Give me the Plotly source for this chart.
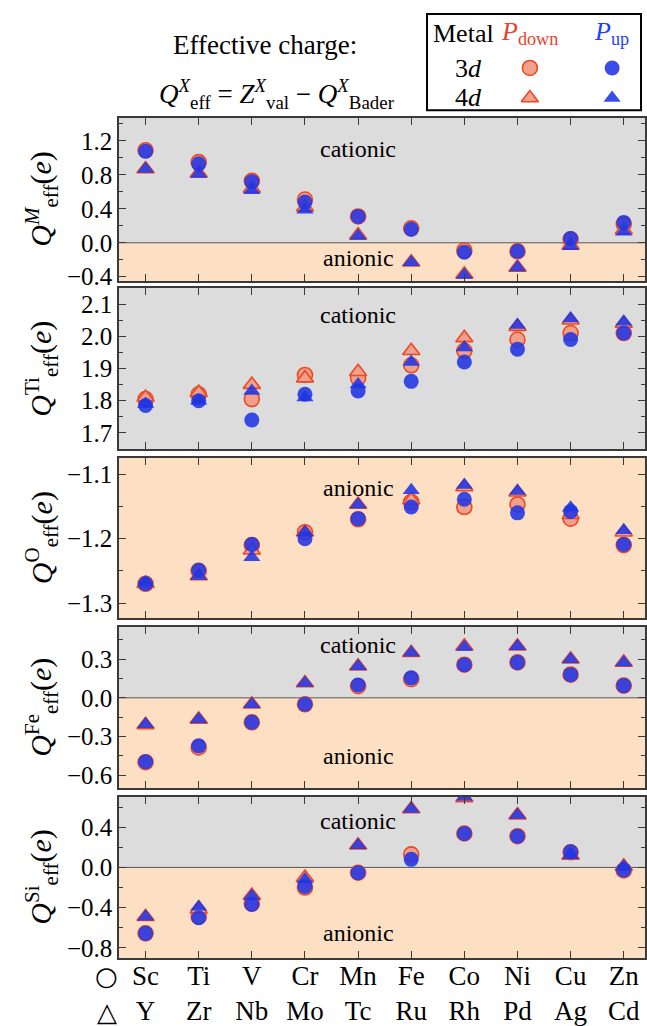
import plotly.graph_objects as go

# ---------------- data ----------------
metals_3d = ["Sc", "Ti", "V", "Cr", "Mn", "Fe", "Co", "Ni", "Cu", "Zn"]
metals_4d = ["Y", "Zr", "Nb", "Mo", "Tc", "Ru", "Rh", "Pd", "Ag", "Cd"]

M_3d_down = [1.09, 0.95, 0.73, 0.51, 0.31, 0.17, -0.09, -0.10, 0.04, 0.22]
M_3d_up = [1.08, 0.93, 0.72, 0.48, 0.31, 0.16, -0.11, -0.10, 0.05, 0.24]
M_4d_down = [0.87, 0.82, 0.64, 0.42, 0.09, -0.23, -0.37, -0.29, -0.03, 0.15]
M_4d_up = [0.87, 0.81, 0.62, 0.39, 0.08, -0.23, -0.38, -0.29, -0.04, 0.13]

Ti_3d_down = [1.805, 1.82, 1.805, 1.88, 1.87, 1.91, 1.955, 1.99, 2.01, 2.01]
Ti_3d_up = [1.785, 1.80, 1.74, 1.82, 1.83, 1.86, 1.92, 1.96, 1.99, 2.01]
Ti_4d_down = [1.81, 1.825, 1.85, 1.87, 1.89, 1.955, 1.995, 2.03, 2.05, 2.04]
Ti_4d_up = [1.79, 1.80, 1.83, 1.81, 1.85, 1.92, 1.965, 2.035, 2.055, 2.045]

O_3d_down = [-1.27, -1.25, -1.21, -1.19, -1.17, -1.143, -1.151, -1.147, -1.169, -1.21]
O_3d_up = [-1.27, -1.249, -1.209, -1.20, -1.169, -1.151, -1.139, -1.16, -1.158, -1.209]
O_4d_down = [-1.27, -1.258, -1.218, -1.19, -1.147, -1.14, -1.12, -1.128, -1.163, -1.19]
O_4d_up = [-1.268, -1.258, -1.229, -1.19, -1.147, -1.125, -1.117, -1.126, -1.152, -1.187]

Fe_3d_down = [-0.50, -0.385, -0.19, -0.05, 0.09, 0.145, 0.257, 0.275, 0.18, 0.095]
Fe_3d_up = [-0.496, -0.373, -0.19, -0.05, 0.10, 0.155, 0.257, 0.275, 0.18, 0.095]
Fe_4d_down = [-0.21, -0.167, -0.05, 0.115, 0.245, 0.35, 0.40, 0.40, 0.30, 0.275]
Fe_4d_up = [-0.205, -0.167, -0.05, 0.115, 0.245, 0.35, 0.395, 0.40, 0.30, 0.275]

Si_3d_down = [-0.655, -0.49, -0.36, -0.20, -0.053, 0.13, 0.337, 0.31, 0.15, -0.03]
Si_3d_up = [-0.655, -0.50, -0.367, -0.19, -0.053, 0.08, 0.337, 0.31, 0.155, -0.025]
Si_4d_down = [-0.49, -0.415, -0.28, -0.10, 0.22, 0.58, 0.69, 0.52, 0.12, 0.01]
Si_4d_up = [-0.49, -0.39, -0.285, -0.12, 0.22, 0.58, 0.70, 0.52, 0.12, 0.01]

legend_cols = ["down", "up"]
legend_rows = ["4d", "3d"]

# ---------------- style ----------------
FONT = "Liberation Serif"
RED_EDGE = "#ec4a26"
RED_FILL = "#f3a08a"
BLUE = "rgba(32,52,228,0.88)"
GREY_BG = "#dcdcdc"
ORANGE_BG = "#fde0c3"
AXC = "#3a3a3a"

panels = [
    dict(sup="<i>M</i>", d3=M_3d_down, u3=M_3d_up, d4=M_4d_down, u4=M_4d_up,
         rng=[-0.45, 1.47], dtick=0.4, minor=0.2, dom=[0.7067, 0.8768],
         labels=[("cationic", 1.10), ("anionic", -0.18)], fmt=".1f"),
    dict(sup="Ti", d3=Ti_3d_down, u3=Ti_3d_up, d4=Ti_4d_down, u4=Ti_4d_up,
         rng=[1.65, 2.15], dtick=0.1, minor=0.05, dom=[0.5313, 0.6994],
         labels=[("cationic", 2.066)], fmt=".1f"),
    dict(sup="O", d3=O_3d_down, u3=O_3d_up, d4=O_4d_down, u4=O_4d_up,
         rng=[-1.323, -1.075], dtick=0.1, minor=0.05, dom=[0.3549, 0.5219],
         labels=[("anionic", -1.122)], fmt=".1f"),
    dict(sup="Fe", d3=Fe_3d_down, u3=Fe_3d_up, d4=Fe_4d_down, u4=Fe_4d_up,
         rng=[-0.70, 0.55], dtick=0.3, minor=0.15, dom=[0.1775, 0.3455],
         labels=[("cationic", 0.41), ("anionic", -0.455)], fmt=".1f"),
    dict(sup="Si", d3=Si_3d_down, u3=Si_3d_up, d4=Si_4d_down, u4=Si_4d_up,
         rng=[-0.90, 0.70], dtick=0.4, minor=0.2, dom=[0.0, 0.1681],
         labels=[("cationic", 0.46), ("anionic", -0.65)], fmt=".1f"),
]

xidx = list(range(len(metals_3d)))
fig = go.Figure()
shapes = []
annotations = []
layout = {}

for i, p in enumerate(panels, start=1):
    xa = "x" if i == 1 else f"x{i}"
    ya = "y" if i == 1 else f"y{i}"
    for vals, sym in [(p["d3"], "circle"), (p["d4"], "triangle-up")]:
        fig.add_trace(go.Scatter(x=xidx, y=vals, mode="markers", xaxis=xa, yaxis=ya,
                                 showlegend=False,
                                 marker=dict(symbol=sym, size=15, color=RED_FILL,
                                             line=dict(color=RED_EDGE, width=1.6))))
    for vals, sym in [(p["u3"], "circle"), (p["u4"], "triangle-up")]:
        fig.add_trace(go.Scatter(x=xidx, y=vals, mode="markers", xaxis=xa, yaxis=ya,
                                 showlegend=False,
                                 marker=dict(symbol=sym, size=15, color=BLUE,
                                             line=dict(width=0))))
    lo, hi = p["rng"]
    if hi > 0:
        shapes.append(dict(type="rect", xref=f"{xa} domain", yref=ya, x0=0, x1=1,
                           y0=max(lo, 0), y1=hi, fillcolor=GREY_BG, line=dict(width=0),
                           layer="below"))
    if lo < 0:
        shapes.append(dict(type="rect", xref=f"{xa} domain", yref=ya, x0=0, x1=1,
                           y0=lo, y1=min(hi, 0), fillcolor=ORANGE_BG, line=dict(width=0),
                           layer="below"))
    if lo < 0 < hi:
        shapes.append(dict(type="line", xref=f"{xa} domain", yref=ya, x0=0, x1=1,
                           y0=0, y1=0, line=dict(color="#555555", width=1), layer="below"))
    for txt, yv in p["labels"]:
        annotations.append(dict(text=txt, x=4, y=yv, xref=xa, yref=ya, showarrow=False,
                                xanchor="center", yanchor="middle",
                                font=dict(family=FONT, size=24, color="black")))
    annotations.append(dict(
        text=f"<i>Q</i><sup>{p['sup']}</sup><sub>eff</sub>(<i>e</i>)",
        x=-0.148, y=(p["dom"][0] + p["dom"][1]) / 2, xref="paper", yref="paper",
        textangle=-90, showarrow=False, xanchor="center", yanchor="middle",
        font=dict(family=FONT, size=30, color="black")))

    axis_common = dict(showline=True, linecolor=AXC, linewidth=1.5, mirror="ticks",
                       ticks="inside", ticklen=7, tickwidth=1.3, tickcolor=AXC,
                       showgrid=False, zeroline=False, automargin=False)
    layout[("xaxis" if i == 1 else f"xaxis{i}")] = dict(
        **axis_common, domain=[0, 1], anchor=ya, range=[-0.5, 9.4],
        tickmode="array", tickvals=xidx,
        ticktext=[f"{a}<br>{b}" for a, b in zip(metals_3d, metals_4d)],
        showticklabels=(i == 5), ticklabelstandoff=-7,
        tickfont=dict(family=FONT, size=27, color="black"))
    layout[("yaxis" if i == 1 else f"yaxis{i}")] = dict(
        **axis_common, domain=p["dom"], anchor=xa, range=p["rng"],
        dtick=p["dtick"], tick0=0, tickformat=p["fmt"],
        minor=dict(ticks="inside", ticklen=4, dtick=p["minor"], tick0=0,
                   tickcolor=AXC, tickwidth=1.1),
        tickfont=dict(family=FONT, size=25, color="black"))

# legend glyph axis (top right)
layout["xaxis6"] = dict(domain=[0.703, 1.0], anchor="y6", range=[-0.5, 1.4],
                        visible=False, type="category", categoryorder="array",
                        categoryarray=legend_cols, automargin=False)
layout["yaxis6"] = dict(domain=[0.8852, 0.9854], anchor="x6", range=[-0.4, 2.8],
                        visible=False, type="category", categoryorder="array",
                        categoryarray=legend_rows, automargin=False)
fig.add_trace(go.Scatter(x=["down"], y=["3d"], mode="markers", xaxis="x6", yaxis="y6",
                         showlegend=False, marker=dict(symbol="circle", size=15, color=RED_FILL,
                                                       line=dict(color=RED_EDGE, width=1.6))))
fig.add_trace(go.Scatter(x=["down"], y=["4d"], mode="markers", xaxis="x6", yaxis="y6",
                         showlegend=False, marker=dict(symbol="triangle-up", size=15, color=RED_FILL,
                                                       line=dict(color=RED_EDGE, width=1.6))))
fig.add_trace(go.Scatter(x=["up"], y=["3d"], mode="markers", xaxis="x6", yaxis="y6",
                         showlegend=False, marker=dict(symbol="circle", size=15, color=BLUE)))
fig.add_trace(go.Scatter(x=["up"], y=["4d"], mode="markers", xaxis="x6", yaxis="y6",
                         showlegend=False, marker=dict(symbol="triangle-up", size=15, color=BLUE)))

shapes.append(dict(type="rect", xref="paper", yref="paper", x0=0.5856, x1=0.9924,
                   y0=0.885, y1=0.9854, line=dict(color="black", width=2),
                   fillcolor="rgba(0,0,0,0)"))


def ann(text, x, y, size=22, color="black", family=FONT):
    annotations.append(dict(text=text, x=x, y=y, xref="paper", yref="paper", showarrow=False,
                            xanchor="center", yanchor="middle",
                            font=dict(family=family, size=size, color=color)))


ann("Metal", 0.654, 0.9655, size=26)
ann("<i>P</i><sub>down</sub>", 0.781, 0.9655, size=26, color="#e8432a")
ann("<i>P</i><sub>up</sub>", 0.937, 0.9655, size=26, color="#1f3fff")
ann("3<i>d</i>", 0.665, 0.929, size=26)
ann("4<i>d</i>", 0.665, 0.898, size=26)

ann("Effective charge:", 0.277, 0.953, size=27)
ann("<i>Q</i><sup><i>X</i></sup><sub>eff</sub> = <i>Z</i><sup><i>X</i></sup><sub>val</sub> − "
    "<i>Q</i><sup><i>X</i></sup><sub>Bader</sub>", 0.30, 0.902, size=27)

ann("○", -0.023, -0.0188, size=26, family="DejaVu Sans")
ann("△", -0.023, -0.0564, size=26, family="DejaVu Sans")

fig.update_layout(
    width=647, height=1026, margin=dict(l=119, r=2, t=0, b=68),
    paper_bgcolor="white", plot_bgcolor="rgba(0,0,0,0)",
    shapes=shapes, annotations=annotations, showlegend=False,
    font=dict(family=FONT, color="black"),
    **layout)

fig.write_html("out.html")
